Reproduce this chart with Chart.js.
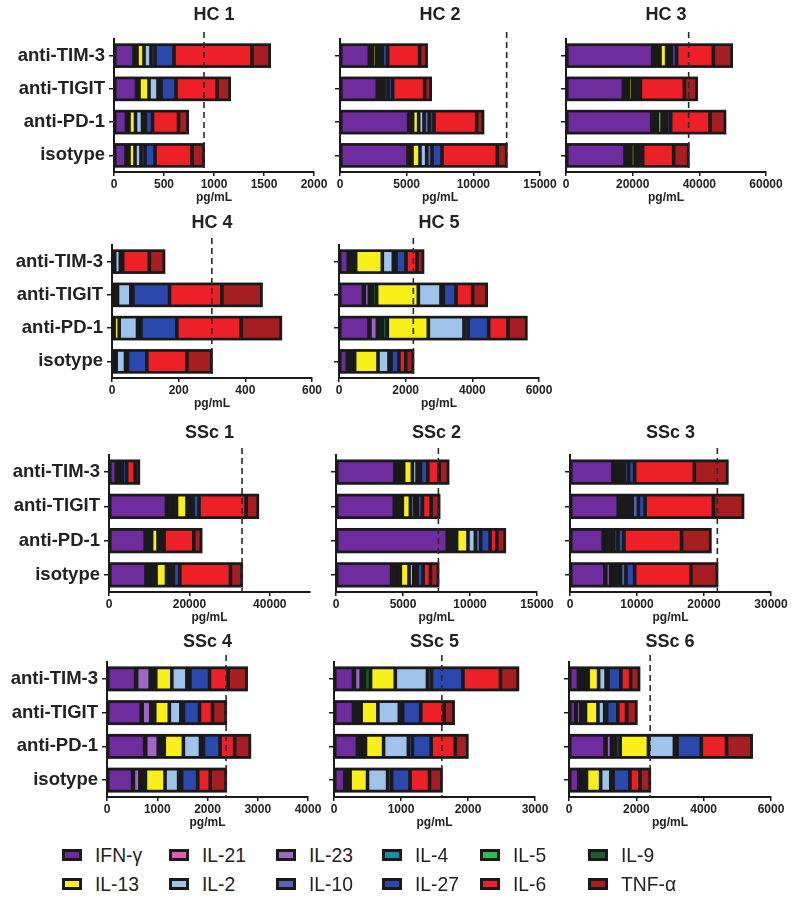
<!DOCTYPE html>
<html>
<head>
<title>Cytokine secretion per donor</title>
<script src="https://cdn.jsdelivr.net/npm/chart.js"></script>
<style>
  body { margin: 0; background: #fff; }
  #wrap { position: relative; width: 800px; height: 901px; overflow: hidden; }
  #wrap canvas { position: absolute; }
  .item { position: absolute; height: 24px; display: flex; align-items: center;
          font-family: "Liberation Sans", Arial, sans-serif; font-size: 21px; color: #222; white-space: nowrap; }
  .item span.t { display: inline-block; transform: scaleX(0.92); transform-origin: left center; }
  .sw { display: inline-block; width: 14px; height: 6px; border: 3px solid #1a1a1a; margin-right: 13px; }
</style>
</head>
<body>
<div id="wrap"></div>
<script>
const treatments = ['anti-TIM-3', 'anti-TIGIT', 'anti-PD-1', 'isotype'];
const cytokines = ['IFN-γ', 'IL-21', 'IL-23', 'IL-4', 'IL-5', 'IL-9', 'IL-13', 'IL-2', 'IL-10', 'IL-27', 'IL-6', 'TNF-α'];
const panelTitles = ['HC 1', 'HC 2', 'HC 3', 'HC 4', 'HC 5', 'SSc 1', 'SSc 2', 'SSc 3', 'SSc 4', 'SSc 5', 'SSc 6'];
const axisMax = [2000, 15000, 60000, 600, 6000, 50000, 15000, 30000, 4000, 3000, 6000];
const axisTicks = [
  [0, 500, 1000, 1500, 2000], [0, 5000, 10000, 15000], [0, 20000, 40000, 60000],
  [0, 200, 400, 600], [0, 2000, 4000, 6000],
  [0, 20000, 40000], [0, 5000, 10000, 15000], [0, 10000, 20000, 30000],
  [0, 1000, 2000, 3000, 4000], [0, 1000, 2000, 3000], [0, 2000, 4000, 6000]
];

// pg/mL, one row per treatment, columns in the order of `cytokines`
const hc1 = [
  [200, 5, 5, 5, 5, 10, 70, 70, 40, 190, 780, 180],
  [225, 5, 5, 5, 5, 5, 100, 90, 30, 150, 410, 130],
  [125, 5, 5, 5, 5, 5, 65, 70, 30, 70, 260, 95],
  [120, 5, 5, 5, 5, 10, 60, 60, 40, 100, 370, 120]
];
const hc2 = [
  [2200, 50, 60, 30, 30, 50, 300, 200, 250, 400, 2400, 550],
  [2800, 50, 50, 30, 20, 50, 150, 150, 300, 350, 2400, 475],
  [5150, 50, 100, 50, 50, 50, 450, 400, 400, 350, 3200, 500],
  [5100, 50, 100, 50, 50, 50, 600, 500, 400, 750, 4150, 700]
];
const hc3 = [
  [26000, 300, 500, 300, 300, 800, 2000, 600, 800, 1600, 11000, 5600],
  [17200, 200, 400, 200, 200, 600, 1200, 600, 700, 1000, 13200, 3800],
  [25700, 300, 500, 200, 200, 600, 1300, 700, 700, 1200, 11800, 4600],
  [17700, 200, 400, 200, 200, 800, 1200, 600, 800, 900, 9300, 4500]
];
const hc4 = [
  [2, 0.5, 0.5, 0.5, 0.5, 1, 3, 17, 3, 4, 80, 45],
  [3, 0.5, 1, 0.5, 0.5, 1, 10, 40, 6, 110, 157, 120],
  [3, 0.5, 1, 0.5, 0.5, 1, 15, 55, 10, 108, 193, 120],
  [5, 0.5, 1, 0.5, 0.5, 2, 3, 28, 6, 58, 120, 75]
];
const hc5 = [
  [280, 30, 80, 30, 30, 50, 800, 330, 80, 300, 330, 190],
  [730, 30, 150, 30, 60, 130, 1250, 680, 70, 380, 500, 430],
  [900, 30, 220, 40, 110, 150, 1230, 1070, 120, 620, 580, 560],
  [250, 30, 80, 30, 30, 50, 700, 330, 60, 240, 200, 230]
];
const ssc1 = [
  [1800, 100, 200, 100, 100, 300, 200, 200, 300, 1100, 2100, 1000],
  [14300, 300, 800, 300, 300, 800, 2600, 700, 800, 1500, 11700, 3000],
  [9000, 200, 500, 200, 200, 500, 1600, 500, 500, 500, 7400, 1900],
  [9200, 300, 700, 300, 400, 800, 2600, 800, 900, 1600, 12600, 2900]
];
const ssc2 = [
  [4400, 100, 150, 100, 100, 200, 650, 350, 250, 550, 850, 690],
  [4350, 100, 100, 100, 100, 200, 600, 300, 200, 400, 650, 620],
  [8300, 100, 200, 100, 100, 200, 850, 550, 400, 700, 500, 620],
  [4150, 100, 150, 100, 100, 200, 650, 350, 250, 450, 550, 590]
];
const ssc3 = [
  [6400, 150, 300, 150, 150, 400, 300, 300, 600, 900, 8900, 4980],
  [7200, 150, 450, 200, 200, 500, 300, 300, 900, 1000, 10200, 4470],
  [4950, 100, 250, 150, 150, 350, 300, 300, 600, 900, 8600, 4350],
  [5200, 150, 700, 200, 200, 400, 300, 400, 800, 1300, 8400, 3940]
];
const ssc4 = [
  [570, 20, 270, 20, 30, 60, 320, 300, 60, 390, 370, 375],
  [680, 20, 170, 20, 20, 40, 290, 230, 50, 320, 260, 270],
  [750, 20, 250, 30, 30, 60, 380, 340, 60, 330, 290, 310],
  [510, 15, 130, 30, 30, 50, 390, 270, 60, 320, 250, 315]
];
const ssc5 = [
  [290, 15, 100, 20, 30, 90, 370, 480, 60, 470, 560, 265],
  [290, 15, 30, 15, 15, 40, 250, 320, 50, 270, 350, 145],
  [350, 15, 30, 15, 15, 45, 270, 370, 60, 280, 360, 185],
  [160, 10, 25, 10, 10, 25, 260, 300, 60, 275, 290, 185]
];
const ssc6 = [
  [280, 20, 100, 30, 30, 110, 310, 220, 60, 380, 290, 260],
  [200, 20, 130, 30, 30, 80, 370, 200, 60, 330, 260, 300],
  [1070, 30, 160, 30, 90, 140, 840, 770, 80, 720, 750, 755],
  [290, 20, 60, 30, 30, 90, 420, 300, 70, 500, 300, 300]
];
const panelData = [hc1, hc2, hc3, hc4, hc5, ssc1, ssc2, ssc3, ssc4, ssc5, ssc6];

const colors = ['#6f2c9f', '#e05cb8', '#a066c6', '#188fa6', '#2fbf48', '#1c5e2c',
                '#f9f01a', '#9fc3ea', '#5563b8', '#2a48ad', '#ee2027', '#a61e22'];

// page layout (plot area edges in px)
const panelRow = [0, 0, 0, 1, 1, 2, 2, 2, 3, 3, 3];
const panelCol = [0, 1, 2, 0, 1, 0, 1, 2, 0, 1, 2];
const plotLeft = [114, 340, 566, 112, 339, 109, 336, 570, 107, 334, 569];
const plotRight = [314, 540, 766, 312, 539, 310, 537, 771, 308, 535, 771];
const rowTitleY = [15, 223, 433, 642];
const rowTop = [39, 245, 455, 662];
const rowBottom = [172, 378, 592, 797];
const legendX = [62, 169, 276, 382, 480, 588];
const legendY = [843, 872];

const FONT = '"Liberation Sans", Arial, sans-serif';
const INK = '#1a1a1a';

const sum = a => a.reduce((s, v) => s + v, 0);

// black bed under each stacked bar, outer outline, and dashed line at the isotype total
function overlay(rows) {
  const barRect = (chart, j) => {
    const x = chart.scales.x, bar = chart.getDatasetMeta(0).data[j];
    const x0 = x.getPixelForValue(0), x1 = x.getPixelForValue(sum(rows[j]));
    return [x0, bar.y - bar.height / 2, x1 - x0, bar.height];
  };
  return {
    id: 'overlay',
    beforeDatasetsDraw(chart) {
      const ctx = chart.ctx;
      ctx.save();
      ctx.fillStyle = INK;
      rows.forEach((vals, j) => ctx.fillRect(...barRect(chart, j)));
      ctx.restore();
    },
    afterDatasetsDraw(chart) {
      const { ctx, chartArea, scales: { x } } = chart;
      ctx.save();
      ctx.strokeStyle = INK;
      ctx.lineWidth = 2;
      rows.forEach((vals, j) => ctx.strokeRect(...barRect(chart, j)));
      const xd = x.getPixelForValue(sum(rows[rows.length - 1]));
      ctx.setLineDash([6, 4]);
      ctx.lineWidth = 1.6;
      ctx.strokeStyle = '#2a2a2a';
      ctx.beginPath();
      ctx.moveTo(xd, chartArea.top - 7);
      ctx.lineTo(xd, chartArea.bottom);
      ctx.stroke();
      ctx.restore();
    }
  };
}

const wrap = document.getElementById('wrap');

panelData.forEach((rows, p) => {
  const r = panelRow[p], c = panelCol[p];
  const left = c === 0 ? 0 : plotLeft[p] - 14;
  const yw = plotLeft[p] - left;
  const right = plotRight[p] + 24;
  const top = rowTitleY[r] - 14;
  const bottom = rowBottom[r] + 33;

  const canvas = document.createElement('canvas');
  canvas.width = right - left;
  canvas.height = bottom - top;
  canvas.style.left = left + 'px';
  canvas.style.top = top + 'px';
  wrap.appendChild(canvas);

  const datasets = cytokines.map((name, k) => ({
    label: name,
    data: rows.map(row => row[k]),
    backgroundColor: colors[k],
    borderColor: INK,
    borderWidth: 1.8,
    borderSkipped: false,
    barPercentage: 0.68,
    categoryPercentage: 1
  }));

  new Chart(canvas, {
    type: 'bar',
    data: { labels: treatments, datasets },
    options: {
      indexAxis: 'y',
      responsive: false,
      animation: false,
      layout: { padding: { left: 0, right: 24, top: 0, bottom: 0 } },
      plugins: {
        legend: { display: false },
        tooltip: { enabled: false },
        title: {
          display: true, text: panelTitles[p], fullSize: false, color: '#222',
          font: { family: FONT, size: 18, weight: 'bold' },
          padding: { top: 3.2, bottom: rowTop[r] - rowTitleY[r] - 10.8 }
        }
      },
      scales: {
        x: {
          stacked: true, min: 0, max: axisMax[p],
          afterBuildTicks: ax => { ax.ticks = axisTicks[p].map(v => ({ value: v })); },
          afterFit: s => { s.height = 33; },
          border: { display: true, color: INK, width: 2 },
          grid: { display: true, drawOnChartArea: false, drawTicks: true, tickLength: 4, color: INK, lineWidth: 1.5 },
          ticks: { color: '#222', font: { family: FONT, size: 12, weight: 'bold' }, padding: 1,
                   maxRotation: 0, autoSkip: false, callback: v => String(v) },
          title: { display: true, text: 'pg/mL', color: '#222', padding: { top: 0, bottom: 0 },
                   font: { family: FONT, size: 12, weight: 'bold' } }
        },
        y: {
          stacked: true,
          afterFit: s => { s.width = yw; },
          border: { display: true, color: INK, width: 2 },
          grid: { display: true, offset: false, drawOnChartArea: false, drawTicks: true, tickLength: 5, color: INK, lineWidth: 1.5 },
          ticks: { display: c === 0, color: '#222', padding: 4, font: { family: FONT, size: 18.5, weight: 'bold' } }
        }
      }
    },
    plugins: [overlay(rows)]
  });
});

cytokines.forEach((name, k) => {
  const item = document.createElement('div');
  item.className = 'item';
  item.style.left = legendX[k % 6] + 'px';
  item.style.top = legendY[Math.floor(k / 6)] + 'px';
  const sw = document.createElement('span');
  sw.className = 'sw';
  sw.style.background = colors[k];
  const t = document.createElement('span');
  t.className = 't';
  t.textContent = name;
  item.appendChild(sw);
  item.appendChild(t);
  wrap.appendChild(item);
});
</script>
</body>
</html>
